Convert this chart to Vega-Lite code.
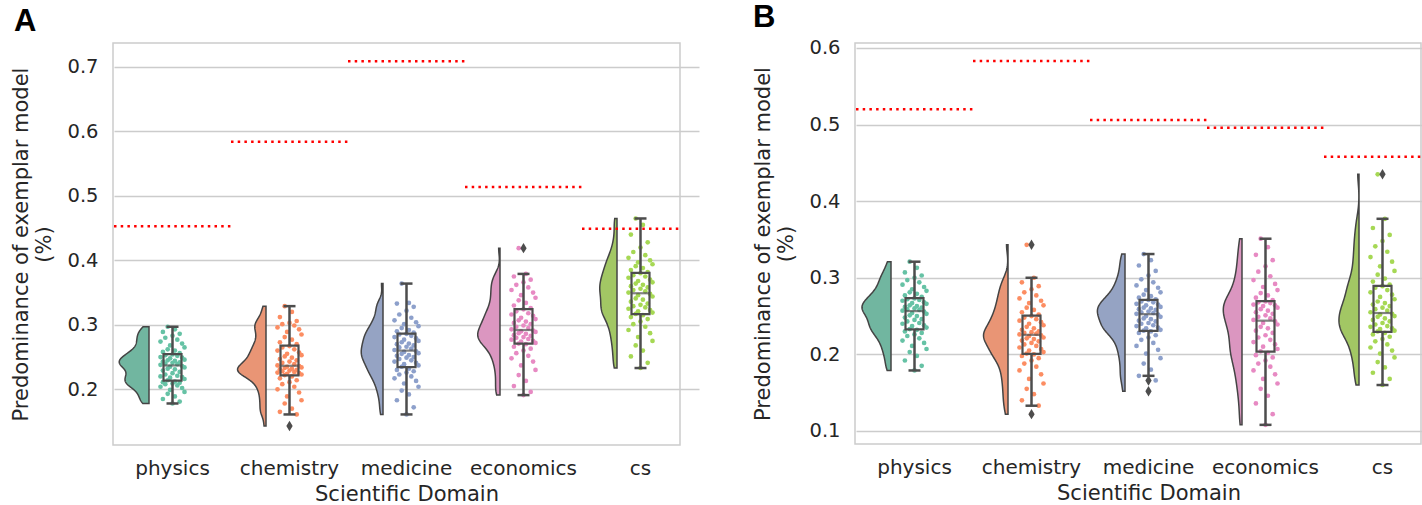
{
"$schema": "https://vega.github.io/schema/vega-lite/v6.json",
"padding": {"left": 10, "top": 1, "right": 0, "bottom": 0},
"spacing": 53,
"config": {
 "font": "DejaVu Sans",
 "view": {"stroke": "#cccccc", "strokeWidth": 1.5},
 "axis": {"labelFont": "DejaVu Sans", "labelFontSize": 19.5, "labelColor": "#262626", "titleFont": "DejaVu Sans", "titleFontSize": 21, "titleFontWeight": "normal", "titleColor": "#262626", "ticks": false, "tickSize": 0, "domain": false, "gridColor": "#cccccc", "gridWidth": 1.5, "labelPadding": 15},
 "axisX": {"labelFontSize": 20, "labelPadding": 13}
},
"datasets": {
"A": [
{"c":"physics","v":0.178,"j":0},{"c":"physics","v":0.181,"j":3},{"c":"physics","v":0.185,"j":-4},{"c":"physics","v":0.189,"j":1},{"c":"physics","v":0.193,"j":-2},{"c":"physics","v":0.196,"j":5},{"c":"physics","v":0.199,"j":-1},{"c":"physics","v":0.202,"j":4},{"c":"physics","v":0.204,"j":-5},{"c":"physics","v":0.206,"j":2},{"c":"physics","v":0.208,"j":-3},
{"c":"physics","v":0.209,"j":0},{"c":"physics","v":0.21,"j":3},{"c":"physics","v":0.211,"j":-4},{"c":"physics","v":0.212,"j":1},{"c":"physics","v":0.214,"j":-2},{"c":"physics","v":0.216,"j":5},{"c":"physics","v":0.218,"j":-1},{"c":"physics","v":0.219,"j":4},{"c":"physics","v":0.22,"j":-5},{"c":"physics","v":0.221,"j":2},{"c":"physics","v":0.223,"j":-3},
{"c":"physics","v":0.225,"j":0},{"c":"physics","v":0.227,"j":3},{"c":"physics","v":0.229,"j":-4},{"c":"physics","v":0.231,"j":1},{"c":"physics","v":0.232,"j":-2},{"c":"physics","v":0.234,"j":5},{"c":"physics","v":0.235,"j":-1},{"c":"physics","v":0.236,"j":4},{"c":"physics","v":0.238,"j":-5},{"c":"physics","v":0.239,"j":2},{"c":"physics","v":0.24,"j":-3},
{"c":"physics","v":0.241,"j":0},{"c":"physics","v":0.242,"j":3},{"c":"physics","v":0.243,"j":-4},{"c":"physics","v":0.244,"j":1},{"c":"physics","v":0.245,"j":-2},{"c":"physics","v":0.246,"j":5},{"c":"physics","v":0.248,"j":-1},{"c":"physics","v":0.249,"j":4},{"c":"physics","v":0.25,"j":-5},{"c":"physics","v":0.252,"j":2},{"c":"physics","v":0.253,"j":-3},
{"c":"physics","v":0.254,"j":0},{"c":"physics","v":0.256,"j":3},{"c":"physics","v":0.258,"j":-4},{"c":"physics","v":0.26,"j":1},{"c":"physics","v":0.262,"j":-2},{"c":"physics","v":0.265,"j":5},{"c":"physics","v":0.268,"j":-1},{"c":"physics","v":0.271,"j":4},{"c":"physics","v":0.274,"j":-5},{"c":"physics","v":0.277,"j":2},{"c":"physics","v":0.28,"j":-3},
{"c":"physics","v":0.283,"j":0},{"c":"physics","v":0.286,"j":3},{"c":"physics","v":0.289,"j":-4},{"c":"physics","v":0.293,"j":1},{"c":"physics","v":0.297,"j":-2},
{"c":"chemistry","v":0.143,"j":0},{"c":"chemistry","v":0.161,"j":3},{"c":"chemistry","v":0.165,"j":-4},{"c":"chemistry","v":0.17,"j":1},{"c":"chemistry","v":0.178,"j":-2},{"c":"chemistry","v":0.183,"j":5},{"c":"chemistry","v":0.189,"j":-1},{"c":"chemistry","v":0.195,"j":4},{"c":"chemistry","v":0.2,"j":-5},{"c":"chemistry","v":0.204,"j":2},{"c":"chemistry","v":0.208,"j":-3},
{"c":"chemistry","v":0.211,"j":0},{"c":"chemistry","v":0.214,"j":3},{"c":"chemistry","v":0.217,"j":-4},{"c":"chemistry","v":0.22,"j":1},{"c":"chemistry","v":0.222,"j":-2},{"c":"chemistry","v":0.223,"j":5},{"c":"chemistry","v":0.224,"j":-1},{"c":"chemistry","v":0.225,"j":4},{"c":"chemistry","v":0.226,"j":-5},{"c":"chemistry","v":0.227,"j":2},{"c":"chemistry","v":0.228,"j":-3},
{"c":"chemistry","v":0.229,"j":0},{"c":"chemistry","v":0.23,"j":3},{"c":"chemistry","v":0.231,"j":-4},{"c":"chemistry","v":0.232,"j":1},{"c":"chemistry","v":0.233,"j":-2},{"c":"chemistry","v":0.234,"j":5},{"c":"chemistry","v":0.235,"j":-1},{"c":"chemistry","v":0.236,"j":4},{"c":"chemistry","v":0.237,"j":-5},{"c":"chemistry","v":0.239,"j":2},{"c":"chemistry","v":0.241,"j":-3},
{"c":"chemistry","v":0.243,"j":0},{"c":"chemistry","v":0.245,"j":3},{"c":"chemistry","v":0.247,"j":-4},{"c":"chemistry","v":0.249,"j":1},{"c":"chemistry","v":0.251,"j":-2},{"c":"chemistry","v":0.253,"j":5},{"c":"chemistry","v":0.255,"j":-1},{"c":"chemistry","v":0.257,"j":4},{"c":"chemistry","v":0.26,"j":-5},{"c":"chemistry","v":0.262,"j":2},{"c":"chemistry","v":0.265,"j":-3},
{"c":"chemistry","v":0.267,"j":0},{"c":"chemistry","v":0.27,"j":3},{"c":"chemistry","v":0.273,"j":-4},{"c":"chemistry","v":0.277,"j":1},{"c":"chemistry","v":0.281,"j":-2},{"c":"chemistry","v":0.285,"j":5},{"c":"chemistry","v":0.289,"j":-1},{"c":"chemistry","v":0.293,"j":4},{"c":"chemistry","v":0.296,"j":-5},{"c":"chemistry","v":0.299,"j":2},{"c":"chemistry","v":0.301,"j":-3},
{"c":"chemistry","v":0.303,"j":0},{"c":"chemistry","v":0.306,"j":3},{"c":"chemistry","v":0.312,"j":-4},{"c":"chemistry","v":0.32,"j":1},{"c":"chemistry","v":0.329,"j":-2},
{"c":"medicine","v":0.161,"j":0},{"c":"medicine","v":0.172,"j":3},{"c":"medicine","v":0.183,"j":-4},{"c":"medicine","v":0.192,"j":1},{"c":"medicine","v":0.198,"j":-2},{"c":"medicine","v":0.204,"j":5},{"c":"medicine","v":0.209,"j":-1},{"c":"medicine","v":0.213,"j":4},{"c":"medicine","v":0.217,"j":-5},{"c":"medicine","v":0.22,"j":2},{"c":"medicine","v":0.223,"j":-3},
{"c":"medicine","v":0.226,"j":0},{"c":"medicine","v":0.228,"j":3},{"c":"medicine","v":0.23,"j":-4},{"c":"medicine","v":0.232,"j":1},{"c":"medicine","v":0.235,"j":-2},{"c":"medicine","v":0.237,"j":5},{"c":"medicine","v":0.239,"j":-1},{"c":"medicine","v":0.241,"j":4},{"c":"medicine","v":0.243,"j":-5},{"c":"medicine","v":0.245,"j":2},{"c":"medicine","v":0.247,"j":-3},
{"c":"medicine","v":0.249,"j":0},{"c":"medicine","v":0.25,"j":3},{"c":"medicine","v":0.252,"j":-4},{"c":"medicine","v":0.253,"j":1},{"c":"medicine","v":0.255,"j":-2},{"c":"medicine","v":0.256,"j":5},{"c":"medicine","v":0.258,"j":-1},{"c":"medicine","v":0.259,"j":4},{"c":"medicine","v":0.261,"j":-5},{"c":"medicine","v":0.263,"j":2},{"c":"medicine","v":0.265,"j":-3},
{"c":"medicine","v":0.266,"j":0},{"c":"medicine","v":0.268,"j":3},{"c":"medicine","v":0.27,"j":-4},{"c":"medicine","v":0.271,"j":1},{"c":"medicine","v":0.273,"j":-2},{"c":"medicine","v":0.275,"j":5},{"c":"medicine","v":0.277,"j":-1},{"c":"medicine","v":0.279,"j":4},{"c":"medicine","v":0.281,"j":-5},{"c":"medicine","v":0.283,"j":2},{"c":"medicine","v":0.285,"j":-3},
{"c":"medicine","v":0.286,"j":0},{"c":"medicine","v":0.288,"j":3},{"c":"medicine","v":0.29,"j":-4},{"c":"medicine","v":0.292,"j":1},{"c":"medicine","v":0.295,"j":-2},{"c":"medicine","v":0.298,"j":5},{"c":"medicine","v":0.301,"j":-1},{"c":"medicine","v":0.304,"j":4},{"c":"medicine","v":0.307,"j":-5},{"c":"medicine","v":0.311,"j":2},{"c":"medicine","v":0.316,"j":-3},
{"c":"medicine","v":0.322,"j":0},{"c":"medicine","v":0.328,"j":3},{"c":"medicine","v":0.333,"j":-4},{"c":"medicine","v":0.334,"j":1},{"c":"medicine","v":0.364,"j":-2},
{"c":"economics","v":0.191,"j":0},{"c":"economics","v":0.196,"j":3},{"c":"economics","v":0.205,"j":-4},{"c":"economics","v":0.213,"j":1},{"c":"economics","v":0.222,"j":-2},{"c":"economics","v":0.23,"j":5},{"c":"economics","v":0.237,"j":-1},{"c":"economics","v":0.243,"j":4},{"c":"economics","v":0.248,"j":-5},{"c":"economics","v":0.252,"j":2},{"c":"economics","v":0.256,"j":-3},
{"c":"economics","v":0.26,"j":0},{"c":"economics","v":0.263,"j":3},{"c":"economics","v":0.266,"j":-4},{"c":"economics","v":0.27,"j":1},{"c":"economics","v":0.271,"j":-2},{"c":"economics","v":0.272,"j":5},{"c":"economics","v":0.274,"j":-1},{"c":"economics","v":0.275,"j":4},{"c":"economics","v":0.277,"j":-5},{"c":"economics","v":0.278,"j":2},{"c":"economics","v":0.28,"j":-3},
{"c":"economics","v":0.281,"j":0},{"c":"economics","v":0.283,"j":3},{"c":"economics","v":0.284,"j":-4},{"c":"economics","v":0.286,"j":1},{"c":"economics","v":0.287,"j":-2},{"c":"economics","v":0.289,"j":5},{"c":"economics","v":0.29,"j":-1},{"c":"economics","v":0.291,"j":4},{"c":"economics","v":0.293,"j":-5},{"c":"economics","v":0.295,"j":2},{"c":"economics","v":0.297,"j":-3},
{"c":"economics","v":0.299,"j":0},{"c":"economics","v":0.301,"j":3},{"c":"economics","v":0.303,"j":-4},{"c":"economics","v":0.305,"j":1},{"c":"economics","v":0.307,"j":-2},{"c":"economics","v":0.309,"j":5},{"c":"economics","v":0.311,"j":-1},{"c":"economics","v":0.314,"j":4},{"c":"economics","v":0.316,"j":-5},{"c":"economics","v":0.318,"j":2},{"c":"economics","v":0.321,"j":-3},
{"c":"economics","v":0.324,"j":0},{"c":"economics","v":0.326,"j":3},{"c":"economics","v":0.33,"j":-4},{"c":"economics","v":0.334,"j":1},{"c":"economics","v":0.338,"j":-2},{"c":"economics","v":0.342,"j":5},{"c":"economics","v":0.346,"j":-1},{"c":"economics","v":0.35,"j":4},{"c":"economics","v":0.354,"j":-5},{"c":"economics","v":0.358,"j":2},{"c":"economics","v":0.362,"j":-3},
{"c":"economics","v":0.366,"j":0},{"c":"economics","v":0.37,"j":3},{"c":"economics","v":0.375,"j":-4},{"c":"economics","v":0.379,"j":1},{"c":"economics","v":0.419,"j":-2},
{"c":"cs","v":0.233,"j":0},{"c":"cs","v":0.241,"j":3},{"c":"cs","v":0.251,"j":-4},{"c":"cs","v":0.26,"j":1},{"c":"cs","v":0.268,"j":-2},{"c":"cs","v":0.275,"j":5},{"c":"cs","v":0.281,"j":-1},{"c":"cs","v":0.287,"j":4},{"c":"cs","v":0.292,"j":-5},{"c":"cs","v":0.297,"j":2},{"c":"cs","v":0.301,"j":-3},
{"c":"cs","v":0.305,"j":0},{"c":"cs","v":0.309,"j":3},{"c":"cs","v":0.312,"j":-4},{"c":"cs","v":0.315,"j":1},{"c":"cs","v":0.317,"j":-2},{"c":"cs","v":0.319,"j":5},{"c":"cs","v":0.321,"j":-1},{"c":"cs","v":0.323,"j":4},{"c":"cs","v":0.325,"j":-5},{"c":"cs","v":0.327,"j":2},{"c":"cs","v":0.329,"j":-3},
{"c":"cs","v":0.331,"j":0},{"c":"cs","v":0.333,"j":3},{"c":"cs","v":0.336,"j":-4},{"c":"cs","v":0.339,"j":1},{"c":"cs","v":0.341,"j":-2},{"c":"cs","v":0.344,"j":5},{"c":"cs","v":0.346,"j":-1},{"c":"cs","v":0.348,"j":4},{"c":"cs","v":0.35,"j":-5},{"c":"cs","v":0.352,"j":2},{"c":"cs","v":0.354,"j":-3},
{"c":"cs","v":0.356,"j":0},{"c":"cs","v":0.358,"j":3},{"c":"cs","v":0.36,"j":-4},{"c":"cs","v":0.362,"j":1},{"c":"cs","v":0.364,"j":-2},{"c":"cs","v":0.366,"j":5},{"c":"cs","v":0.368,"j":-1},{"c":"cs","v":0.37,"j":4},{"c":"cs","v":0.373,"j":-5},{"c":"cs","v":0.375,"j":2},{"c":"cs","v":0.377,"j":-3},
{"c":"cs","v":0.38,"j":0},{"c":"cs","v":0.382,"j":3},{"c":"cs","v":0.385,"j":-4},{"c":"cs","v":0.388,"j":1},{"c":"cs","v":0.391,"j":-2},{"c":"cs","v":0.394,"j":5},{"c":"cs","v":0.397,"j":-1},{"c":"cs","v":0.4,"j":4},{"c":"cs","v":0.404,"j":-5},{"c":"cs","v":0.408,"j":2},{"c":"cs","v":0.413,"j":-3},
{"c":"cs","v":0.42,"j":0},{"c":"cs","v":0.428,"j":3},{"c":"cs","v":0.44,"j":-4},{"c":"cs","v":0.455,"j":1},{"c":"cs","v":0.465,"j":-2}
],
"B": [
{"c":"physics","v":0.179,"j":0},{"c":"physics","v":0.185,"j":3},{"c":"physics","v":0.192,"j":-4},{"c":"physics","v":0.198,"j":1},{"c":"physics","v":0.203,"j":-2},{"c":"physics","v":0.207,"j":5},{"c":"physics","v":0.211,"j":-1},{"c":"physics","v":0.215,"j":4},{"c":"physics","v":0.218,"j":-5},{"c":"physics","v":0.221,"j":2},{"c":"physics","v":0.224,"j":-3},
{"c":"physics","v":0.226,"j":0},{"c":"physics","v":0.228,"j":3},{"c":"physics","v":0.23,"j":-4},{"c":"physics","v":0.232,"j":1},{"c":"physics","v":0.233,"j":-2},{"c":"physics","v":0.235,"j":5},{"c":"physics","v":0.237,"j":-1},{"c":"physics","v":0.238,"j":4},{"c":"physics","v":0.24,"j":-5},{"c":"physics","v":0.241,"j":2},{"c":"physics","v":0.243,"j":-3},
{"c":"physics","v":0.245,"j":0},{"c":"physics","v":0.246,"j":3},{"c":"physics","v":0.248,"j":-4},{"c":"physics","v":0.25,"j":1},{"c":"physics","v":0.251,"j":-2},{"c":"physics","v":0.253,"j":5},{"c":"physics","v":0.254,"j":-1},{"c":"physics","v":0.256,"j":4},{"c":"physics","v":0.257,"j":-5},{"c":"physics","v":0.258,"j":2},{"c":"physics","v":0.259,"j":-3},
{"c":"physics","v":0.26,"j":0},{"c":"physics","v":0.261,"j":3},{"c":"physics","v":0.262,"j":-4},{"c":"physics","v":0.263,"j":1},{"c":"physics","v":0.264,"j":-2},{"c":"physics","v":0.266,"j":5},{"c":"physics","v":0.267,"j":-1},{"c":"physics","v":0.268,"j":4},{"c":"physics","v":0.27,"j":-5},{"c":"physics","v":0.271,"j":2},{"c":"physics","v":0.272,"j":-3},
{"c":"physics","v":0.273,"j":0},{"c":"physics","v":0.275,"j":3},{"c":"physics","v":0.277,"j":-4},{"c":"physics","v":0.279,"j":1},{"c":"physics","v":0.281,"j":-2},{"c":"physics","v":0.283,"j":5},{"c":"physics","v":0.285,"j":-1},{"c":"physics","v":0.288,"j":4},{"c":"physics","v":0.291,"j":-5},{"c":"physics","v":0.294,"j":2},{"c":"physics","v":0.297,"j":-3},
{"c":"physics","v":0.3,"j":0},{"c":"physics","v":0.303,"j":3},{"c":"physics","v":0.307,"j":-4},{"c":"physics","v":0.313,"j":1},{"c":"physics","v":0.321,"j":-2},
{"c":"chemistry","v":0.122,"j":0},{"c":"chemistry","v":0.133,"j":3},{"c":"chemistry","v":0.14,"j":-4},{"c":"chemistry","v":0.148,"j":1},{"c":"chemistry","v":0.155,"j":-2},{"c":"chemistry","v":0.162,"j":5},{"c":"chemistry","v":0.168,"j":-1},{"c":"chemistry","v":0.174,"j":4},{"c":"chemistry","v":0.179,"j":-5},{"c":"chemistry","v":0.184,"j":2},{"c":"chemistry","v":0.188,"j":-3},
{"c":"chemistry","v":0.192,"j":0},{"c":"chemistry","v":0.195,"j":3},{"c":"chemistry","v":0.198,"j":-4},{"c":"chemistry","v":0.2,"j":1},{"c":"chemistry","v":0.201,"j":-2},{"c":"chemistry","v":0.203,"j":5},{"c":"chemistry","v":0.205,"j":-1},{"c":"chemistry","v":0.207,"j":4},{"c":"chemistry","v":0.209,"j":-5},{"c":"chemistry","v":0.211,"j":2},{"c":"chemistry","v":0.213,"j":-3},
{"c":"chemistry","v":0.215,"j":0},{"c":"chemistry","v":0.217,"j":3},{"c":"chemistry","v":0.218,"j":-4},{"c":"chemistry","v":0.22,"j":1},{"c":"chemistry","v":0.221,"j":-2},{"c":"chemistry","v":0.222,"j":5},{"c":"chemistry","v":0.224,"j":-1},{"c":"chemistry","v":0.225,"j":4},{"c":"chemistry","v":0.226,"j":-5},{"c":"chemistry","v":0.227,"j":2},{"c":"chemistry","v":0.228,"j":-3},
{"c":"chemistry","v":0.229,"j":0},{"c":"chemistry","v":0.23,"j":3},{"c":"chemistry","v":0.232,"j":-4},{"c":"chemistry","v":0.234,"j":1},{"c":"chemistry","v":0.236,"j":-2},{"c":"chemistry","v":0.238,"j":5},{"c":"chemistry","v":0.24,"j":-1},{"c":"chemistry","v":0.242,"j":4},{"c":"chemistry","v":0.244,"j":-5},{"c":"chemistry","v":0.246,"j":2},{"c":"chemistry","v":0.248,"j":-3},
{"c":"chemistry","v":0.25,"j":0},{"c":"chemistry","v":0.252,"j":3},{"c":"chemistry","v":0.255,"j":-4},{"c":"chemistry","v":0.258,"j":1},{"c":"chemistry","v":0.261,"j":-2},{"c":"chemistry","v":0.264,"j":5},{"c":"chemistry","v":0.267,"j":-1},{"c":"chemistry","v":0.27,"j":4},{"c":"chemistry","v":0.273,"j":-5},{"c":"chemistry","v":0.277,"j":2},{"c":"chemistry","v":0.281,"j":-3},
{"c":"chemistry","v":0.285,"j":0},{"c":"chemistry","v":0.289,"j":3},{"c":"chemistry","v":0.294,"j":-4},{"c":"chemistry","v":0.3,"j":1},{"c":"chemistry","v":0.343,"j":-2},
{"c":"medicine","v":0.152,"j":0},{"c":"medicine","v":0.166,"j":3},{"c":"medicine","v":0.172,"j":-4},{"c":"medicine","v":0.18,"j":1},{"c":"medicine","v":0.188,"j":-2},{"c":"medicine","v":0.195,"j":5},{"c":"medicine","v":0.201,"j":-1},{"c":"medicine","v":0.206,"j":4},{"c":"medicine","v":0.211,"j":-5},{"c":"medicine","v":0.215,"j":2},{"c":"medicine","v":0.219,"j":-3},
{"c":"medicine","v":0.222,"j":0},{"c":"medicine","v":0.225,"j":3},{"c":"medicine","v":0.228,"j":-4},{"c":"medicine","v":0.23,"j":1},{"c":"medicine","v":0.231,"j":-2},{"c":"medicine","v":0.232,"j":5},{"c":"medicine","v":0.234,"j":-1},{"c":"medicine","v":0.235,"j":4},{"c":"medicine","v":0.237,"j":-5},{"c":"medicine","v":0.238,"j":2},{"c":"medicine","v":0.24,"j":-3},
{"c":"medicine","v":0.241,"j":0},{"c":"medicine","v":0.243,"j":3},{"c":"medicine","v":0.244,"j":-4},{"c":"medicine","v":0.246,"j":1},{"c":"medicine","v":0.247,"j":-2},{"c":"medicine","v":0.249,"j":5},{"c":"medicine","v":0.25,"j":-1},{"c":"medicine","v":0.252,"j":4},{"c":"medicine","v":0.253,"j":-5},{"c":"medicine","v":0.254,"j":2},{"c":"medicine","v":0.255,"j":-3},
{"c":"medicine","v":0.256,"j":0},{"c":"medicine","v":0.258,"j":3},{"c":"medicine","v":0.259,"j":-4},{"c":"medicine","v":0.26,"j":1},{"c":"medicine","v":0.261,"j":-2},{"c":"medicine","v":0.262,"j":5},{"c":"medicine","v":0.264,"j":-1},{"c":"medicine","v":0.265,"j":4},{"c":"medicine","v":0.266,"j":-5},{"c":"medicine","v":0.268,"j":2},{"c":"medicine","v":0.269,"j":-3},
{"c":"medicine","v":0.271,"j":0},{"c":"medicine","v":0.272,"j":3},{"c":"medicine","v":0.274,"j":-4},{"c":"medicine","v":0.276,"j":1},{"c":"medicine","v":0.278,"j":-2},{"c":"medicine","v":0.281,"j":5},{"c":"medicine","v":0.284,"j":-1},{"c":"medicine","v":0.287,"j":4},{"c":"medicine","v":0.29,"j":-5},{"c":"medicine","v":0.294,"j":2},{"c":"medicine","v":0.298,"j":-3},
{"c":"medicine","v":0.303,"j":0},{"c":"medicine","v":0.309,"j":3},{"c":"medicine","v":0.316,"j":-4},{"c":"medicine","v":0.323,"j":1},{"c":"medicine","v":0.331,"j":-2},
{"c":"economics","v":0.108,"j":0},{"c":"economics","v":0.122,"j":3},{"c":"economics","v":0.136,"j":-4},{"c":"economics","v":0.146,"j":1},{"c":"economics","v":0.155,"j":-2},{"c":"economics","v":0.162,"j":5},{"c":"economics","v":0.168,"j":-1},{"c":"economics","v":0.174,"j":4},{"c":"economics","v":0.179,"j":-5},{"c":"economics","v":0.184,"j":2},{"c":"economics","v":0.188,"j":-3},
{"c":"economics","v":0.192,"j":0},{"c":"economics","v":0.196,"j":3},{"c":"economics","v":0.199,"j":-4},{"c":"economics","v":0.202,"j":1},{"c":"economics","v":0.204,"j":-2},{"c":"economics","v":0.207,"j":5},{"c":"economics","v":0.21,"j":-1},{"c":"economics","v":0.213,"j":4},{"c":"economics","v":0.216,"j":-5},{"c":"economics","v":0.219,"j":2},{"c":"economics","v":0.222,"j":-3},
{"c":"economics","v":0.225,"j":0},{"c":"economics","v":0.228,"j":3},{"c":"economics","v":0.231,"j":-4},{"c":"economics","v":0.234,"j":1},{"c":"economics","v":0.236,"j":-2},{"c":"economics","v":0.239,"j":5},{"c":"economics","v":0.241,"j":-1},{"c":"economics","v":0.243,"j":4},{"c":"economics","v":0.245,"j":-5},{"c":"economics","v":0.247,"j":2},{"c":"economics","v":0.249,"j":-3},
{"c":"economics","v":0.251,"j":0},{"c":"economics","v":0.253,"j":3},{"c":"economics","v":0.255,"j":-4},{"c":"economics","v":0.257,"j":1},{"c":"economics","v":0.259,"j":-2},{"c":"economics","v":0.261,"j":5},{"c":"economics","v":0.263,"j":-1},{"c":"economics","v":0.264,"j":4},{"c":"economics","v":0.265,"j":-5},{"c":"economics","v":0.267,"j":2},{"c":"economics","v":0.268,"j":-3},
{"c":"economics","v":0.269,"j":0},{"c":"economics","v":0.271,"j":3},{"c":"economics","v":0.274,"j":-4},{"c":"economics","v":0.277,"j":1},{"c":"economics","v":0.28,"j":-2},{"c":"economics","v":0.284,"j":5},{"c":"economics","v":0.288,"j":-1},{"c":"economics","v":0.292,"j":4},{"c":"economics","v":0.297,"j":-5},{"c":"economics","v":0.302,"j":2},{"c":"economics","v":0.308,"j":-3},
{"c":"economics","v":0.315,"j":0},{"c":"economics","v":0.323,"j":3},{"c":"economics","v":0.33,"j":-4},{"c":"economics","v":0.34,"j":1},{"c":"economics","v":0.351,"j":-2},
{"c":"cs","v":0.16,"j":0},{"c":"cs","v":0.168,"j":3},{"c":"cs","v":0.176,"j":-4},{"c":"cs","v":0.183,"j":1},{"c":"cs","v":0.19,"j":-2},{"c":"cs","v":0.196,"j":5},{"c":"cs","v":0.201,"j":-1},{"c":"cs","v":0.205,"j":4},{"c":"cs","v":0.209,"j":-5},{"c":"cs","v":0.213,"j":2},{"c":"cs","v":0.217,"j":-3},
{"c":"cs","v":0.22,"j":0},{"c":"cs","v":0.223,"j":3},{"c":"cs","v":0.226,"j":-4},{"c":"cs","v":0.228,"j":1},{"c":"cs","v":0.23,"j":-2},{"c":"cs","v":0.231,"j":5},{"c":"cs","v":0.233,"j":-1},{"c":"cs","v":0.234,"j":4},{"c":"cs","v":0.236,"j":-5},{"c":"cs","v":0.237,"j":2},{"c":"cs","v":0.239,"j":-3},
{"c":"cs","v":0.241,"j":0},{"c":"cs","v":0.243,"j":3},{"c":"cs","v":0.245,"j":-4},{"c":"cs","v":0.247,"j":1},{"c":"cs","v":0.249,"j":-2},{"c":"cs","v":0.25,"j":5},{"c":"cs","v":0.252,"j":-1},{"c":"cs","v":0.253,"j":4},{"c":"cs","v":0.255,"j":-5},{"c":"cs","v":0.257,"j":2},{"c":"cs","v":0.259,"j":-3},
{"c":"cs","v":0.261,"j":0},{"c":"cs","v":0.263,"j":3},{"c":"cs","v":0.265,"j":-4},{"c":"cs","v":0.267,"j":1},{"c":"cs","v":0.269,"j":-2},{"c":"cs","v":0.272,"j":5},{"c":"cs","v":0.275,"j":-1},{"c":"cs","v":0.278,"j":4},{"c":"cs","v":0.281,"j":-5},{"c":"cs","v":0.284,"j":2},{"c":"cs","v":0.287,"j":-3},
{"c":"cs","v":0.289,"j":0},{"c":"cs","v":0.291,"j":3},{"c":"cs","v":0.295,"j":-4},{"c":"cs","v":0.299,"j":1},{"c":"cs","v":0.304,"j":-2},{"c":"cs","v":0.309,"j":5},{"c":"cs","v":0.315,"j":-1},{"c":"cs","v":0.321,"j":4},{"c":"cs","v":0.327,"j":-5},{"c":"cs","v":0.334,"j":2},{"c":"cs","v":0.341,"j":-3},
{"c":"cs","v":0.348,"j":0},{"c":"cs","v":0.356,"j":3},{"c":"cs","v":0.365,"j":-4},{"c":"cs","v":0.377,"j":1},{"c":"cs","v":0.435,"j":-2}
]
},
"hconcat": [
{
 "title": {"text": "A", "anchor": "start", "frame": "bounds", "font": "Liberation Sans", "fontSize": 31, "fontWeight": "bold", "color": "#000000", "offset": -19, "baseline": "alphabetic", "dx": 3},
 "width": 567, "height": 402,
 "data": {"name": "A"},
 "resolve": {"scale": {"x": "independent"}, "axis": {"x": "independent"}},
 "layer": [
  {"layer": [
   {"mark": {"type": "circle", "size": 22, "opacity": 1},
    "encoding": {
     "x": {"field": "c", "type": "nominal", "sort": ["physics","chemistry","medicine","economics","cs"], "scale": {"type": "band", "domain": ["physics","chemistry","medicine","economics","cs"], "range": [1, 586], "paddingInner": 0, "paddingOuter": 0}, "axis": {"title": "Scientific Domain", "labelAngle": 0, "grid": false, "titlePadding": 5}},
     "xOffset": {"field": "j", "type": "quantitative", "scale": {"domain": [-5, 5], "range": [46.5, 70.5]}},
     "y": {"field": "v", "type": "quantitative", "scale": {"domain": [0.1136, 0.7372], "nice": false, "zero": false}, "title": ["Predominance of exemplar model", "(%)"], "axis": {"title": ["Predominance of exemplar model", "(%)"], "values": [0.2, 0.3, 0.4, 0.5, 0.6, 0.7], "format": ".1f", "grid": true, "titlePadding": 12, "titleLineHeight": 23}},
     "color": {"field": "c", "type": "nominal", "scale": {"domain": ["physics","chemistry","medicine","economics","cs"], "range": ["#66c2a5","#fc8d62","#8da0cb","#e78ac3","#a6d854"]}, "legend": null}}},
   {"mark": {"type": "boxplot", "extent": 1.5, "size": 18,
     "box": {"fillOpacity": 0, "stroke": "#4d4d4d", "strokeWidth": 2.2},
     "median": {"color": "#4d4d4d", "thickness": 2.2},
     "rule": {"color": "#4d4d4d", "strokeWidth": 2.5},
     "ticks": {"color": "#4d4d4d", "size": 12, "thickness": 2.5},
     "outliers": {"shape": "M0,-1L0.6,0L0,1L-0.6,0Z", "size": 110, "filled": true, "color": "#4d4d4d", "opacity": 1}},
    "encoding": {
     "x": {"field": "c", "type": "nominal", "sort": ["physics","chemistry","medicine","economics","cs"], "scale": {"type": "band", "domain": ["physics","chemistry","medicine","economics","cs"], "range": [1, 586], "paddingInner": 0, "paddingOuter": 0}},
     "y": {"field": "v", "type": "quantitative", "scale": {"domain": [0.1136, 0.7372], "nice": false, "zero": false}, "title": ["Predominance of exemplar model", "(%)"]}}}
  ]},
  {"transform": [{"filter": "datum.c === 'physics'"}, {"density": "v", "bandwidth": 0.007, "as": ["v", "d"]}],
   "mark": {"type": "area", "orient": "horizontal", "fill": "#71b6a0", "stroke": "#444444", "strokeWidth": 1.5},
   "encoding": {"y": {"field": "v", "type": "quantitative", "scale": {"domain": [0.1136, 0.7372], "nice": false, "zero": false}, "title": ["Predominance of exemplar model", "(%)"]},
    "x": {"field": "d", "type": "quantitative", "stack": null, "scale": {"domain": [0, 10], "range": [36, 14], "nice": false, "zero": false}, "axis": null}}},
  {"transform": [{"filter": "datum.c === 'chemistry'"}, {"density": "v", "bandwidth": 0.009, "as": ["v", "d"]}],
   "mark": {"type": "area", "orient": "horizontal", "fill": "#e99575", "stroke": "#444444", "strokeWidth": 1.5},
   "encoding": {"y": {"field": "v", "type": "quantitative", "scale": {"domain": [0.1136, 0.7372], "nice": false, "zero": false}, "title": ["Predominance of exemplar model", "(%)"]},
    "x": {"field": "d", "type": "quantitative", "stack": null, "scale": {"domain": [0, 10], "range": [153, 131], "nice": false, "zero": false}, "axis": null}}},
  {"transform": [{"filter": "datum.c === 'medicine'"}, {"density": "v", "bandwidth": 0.01, "as": ["v", "d"]}],
   "mark": {"type": "area", "orient": "horizontal", "fill": "#95a3c3", "stroke": "#444444", "strokeWidth": 1.5},
   "encoding": {"y": {"field": "v", "type": "quantitative", "scale": {"domain": [0.1136, 0.7372], "nice": false, "zero": false}, "title": ["Predominance of exemplar model", "(%)"]},
    "x": {"field": "d", "type": "quantitative", "stack": null, "scale": {"domain": [0, 10], "range": [270, 248], "nice": false, "zero": false}, "axis": null}}},
  {"transform": [{"filter": "datum.c === 'economics'"}, {"density": "v", "bandwidth": 0.011, "as": ["v", "d"]}],
   "mark": {"type": "area", "orient": "horizontal", "fill": "#db96c0", "stroke": "#444444", "strokeWidth": 1.5},
   "encoding": {"y": {"field": "v", "type": "quantitative", "scale": {"domain": [0.1136, 0.7372], "nice": false, "zero": false}, "title": ["Predominance of exemplar model", "(%)"]},
    "x": {"field": "d", "type": "quantitative", "stack": null, "scale": {"domain": [0, 10], "range": [387, 365], "nice": false, "zero": false}, "axis": null}}},
  {"transform": [{"filter": "datum.c === 'cs'"}, {"density": "v", "bandwidth": 0.012, "as": ["v", "d"]}],
   "mark": {"type": "area", "orient": "horizontal", "fill": "#a2c764", "stroke": "#444444", "strokeWidth": 1.5},
   "encoding": {"y": {"field": "v", "type": "quantitative", "scale": {"domain": [0.1136, 0.7372], "nice": false, "zero": false}, "title": ["Predominance of exemplar model", "(%)"]},
    "x": {"field": "d", "type": "quantitative", "stack": null, "scale": {"domain": [0, 10], "range": [504, 482], "nice": false, "zero": false}, "axis": null}}},
  {"data": {"values": [{"c":"physics","v":0.453},{"c":"chemistry","v":0.584},{"c":"medicine","v":0.709},{"c":"economics","v":0.514},{"c":"cs","v":0.449}]},
   "mark": {"type": "rule", "color": "#ff0000", "strokeWidth": 2.5, "strokeDash": [2.5, 4.2], "clip": true},
   "encoding": {
    "x": {"field": "c", "type": "nominal", "bandPosition": 0, "sort": ["physics","chemistry","medicine","economics","cs"], "scale": {"type": "band", "domain": ["physics","chemistry","medicine","economics","cs"], "range": [1, 586], "paddingInner": 0, "paddingOuter": 0}, "axis": null},
    "x2": {"field": "c", "bandPosition": 1},
    "y": {"field": "v", "type": "quantitative", "scale": {"domain": [0.1136, 0.7372], "nice": false, "zero": false}, "title": ["Predominance of exemplar model", "(%)"]}}}
 ]
},
{
 "title": {"text": "B", "anchor": "start", "frame": "bounds", "font": "Liberation Sans", "fontSize": 31, "fontWeight": "bold", "color": "#000000", "offset": -20, "baseline": "alphabetic"},
 "width": 566, "height": 401,
 "data": {"name": "B"},
 "resolve": {"scale": {"x": "independent"}, "axis": {"x": "independent"}},
 "layer": [
  {"layer": [
   {"mark": {"type": "circle", "size": 22, "opacity": 1},
    "encoding": {
     "x": {"field": "c", "type": "nominal", "sort": ["physics","chemistry","medicine","economics","cs"], "scale": {"type": "band", "domain": ["physics","chemistry","medicine","economics","cs"], "range": [1, 586], "paddingInner": 0, "paddingOuter": 0}, "axis": {"title": "Scientific Domain", "labelAngle": 0, "grid": false, "titlePadding": 5}},
     "xOffset": {"field": "j", "type": "quantitative", "scale": {"domain": [-5, 5], "range": [46.5, 70.5]}},
     "y": {"field": "v", "type": "quantitative", "scale": {"domain": [0.083, 0.6065], "nice": false, "zero": false}, "title": ["Predominance of exemplar model", "(%)"], "axis": {"title": ["Predominance of exemplar model", "(%)"], "values": [0.1, 0.2, 0.3, 0.4, 0.5, 0.6], "format": ".1f", "grid": true, "titlePadding": 12, "titleLineHeight": 23}},
     "color": {"field": "c", "type": "nominal", "scale": {"domain": ["physics","chemistry","medicine","economics","cs"], "range": ["#66c2a5","#fc8d62","#8da0cb","#e78ac3","#a6d854"]}, "legend": null}}},
   {"mark": {"type": "boxplot", "extent": 1.5, "size": 18,
     "box": {"fillOpacity": 0, "stroke": "#4d4d4d", "strokeWidth": 2.2},
     "median": {"color": "#4d4d4d", "thickness": 2.2},
     "rule": {"color": "#4d4d4d", "strokeWidth": 2.5},
     "ticks": {"color": "#4d4d4d", "size": 12, "thickness": 2.5},
     "outliers": {"shape": "M0,-1L0.6,0L0,1L-0.6,0Z", "size": 110, "filled": true, "color": "#4d4d4d", "opacity": 1}},
    "encoding": {
     "x": {"field": "c", "type": "nominal", "sort": ["physics","chemistry","medicine","economics","cs"], "scale": {"type": "band", "domain": ["physics","chemistry","medicine","economics","cs"], "range": [1, 586], "paddingInner": 0, "paddingOuter": 0}},
     "y": {"field": "v", "type": "quantitative", "scale": {"domain": [0.083, 0.6065], "nice": false, "zero": false}, "title": ["Predominance of exemplar model", "(%)"]}}}
  ]},
  {"transform": [{"filter": "datum.c === 'physics'"}, {"density": "v", "bandwidth": 0.008, "as": ["v", "d"]}],
   "mark": {"type": "area", "orient": "horizontal", "fill": "#71b6a0", "stroke": "#444444", "strokeWidth": 1.5},
   "encoding": {"y": {"field": "v", "type": "quantitative", "scale": {"domain": [0.083, 0.6065], "nice": false, "zero": false}, "title": ["Predominance of exemplar model", "(%)"]},
    "x": {"field": "d", "type": "quantitative", "stack": null, "scale": {"domain": [0, 10], "range": [36, 14], "nice": false, "zero": false}, "axis": null}}},
  {"transform": [{"filter": "datum.c === 'chemistry'"}, {"density": "v", "bandwidth": 0.01, "as": ["v", "d"]}],
   "mark": {"type": "area", "orient": "horizontal", "fill": "#e99575", "stroke": "#444444", "strokeWidth": 1.5},
   "encoding": {"y": {"field": "v", "type": "quantitative", "scale": {"domain": [0.083, 0.6065], "nice": false, "zero": false}, "title": ["Predominance of exemplar model", "(%)"]},
    "x": {"field": "d", "type": "quantitative", "stack": null, "scale": {"domain": [0, 10], "range": [153, 131], "nice": false, "zero": false}, "axis": null}}},
  {"transform": [{"filter": "datum.c === 'medicine'"}, {"density": "v", "bandwidth": 0.009, "as": ["v", "d"]}],
   "mark": {"type": "area", "orient": "horizontal", "fill": "#95a3c3", "stroke": "#444444", "strokeWidth": 1.5},
   "encoding": {"y": {"field": "v", "type": "quantitative", "scale": {"domain": [0.083, 0.6065], "nice": false, "zero": false}, "title": ["Predominance of exemplar model", "(%)"]},
    "x": {"field": "d", "type": "quantitative", "stack": null, "scale": {"domain": [0, 10], "range": [270, 248], "nice": false, "zero": false}, "axis": null}}},
  {"transform": [{"filter": "datum.c === 'economics'"}, {"density": "v", "bandwidth": 0.013, "as": ["v", "d"]}],
   "mark": {"type": "area", "orient": "horizontal", "fill": "#db96c0", "stroke": "#444444", "strokeWidth": 1.5},
   "encoding": {"y": {"field": "v", "type": "quantitative", "scale": {"domain": [0.083, 0.6065], "nice": false, "zero": false}, "title": ["Predominance of exemplar model", "(%)"]},
    "x": {"field": "d", "type": "quantitative", "stack": null, "scale": {"domain": [0, 10], "range": [387, 365], "nice": false, "zero": false}, "axis": null}}},
  {"transform": [{"filter": "datum.c === 'cs'"}, {"density": "v", "bandwidth": 0.012, "as": ["v", "d"]}],
   "mark": {"type": "area", "orient": "horizontal", "fill": "#a2c764", "stroke": "#444444", "strokeWidth": 1.5},
   "encoding": {"y": {"field": "v", "type": "quantitative", "scale": {"domain": [0.083, 0.6065], "nice": false, "zero": false}, "title": ["Predominance of exemplar model", "(%)"]},
    "x": {"field": "d", "type": "quantitative", "stack": null, "scale": {"domain": [0, 10], "range": [504, 482], "nice": false, "zero": false}, "axis": null}}},
  {"data": {"values": [{"c":"physics","v":0.520},{"c":"chemistry","v":0.583},{"c":"medicine","v":0.506},{"c":"economics","v":0.496},{"c":"cs","v":0.458}]},
   "mark": {"type": "rule", "color": "#ff0000", "strokeWidth": 2.5, "strokeDash": [2.5, 4.2], "clip": true},
   "encoding": {
    "x": {"field": "c", "type": "nominal", "bandPosition": 0, "sort": ["physics","chemistry","medicine","economics","cs"], "scale": {"type": "band", "domain": ["physics","chemistry","medicine","economics","cs"], "range": [1, 586], "paddingInner": 0, "paddingOuter": 0}, "axis": null},
    "x2": {"field": "c", "bandPosition": 1},
    "y": {"field": "v", "type": "quantitative", "scale": {"domain": [0.083, 0.6065], "nice": false, "zero": false}, "title": ["Predominance of exemplar model", "(%)"]}}}
 ]
}
]
}
